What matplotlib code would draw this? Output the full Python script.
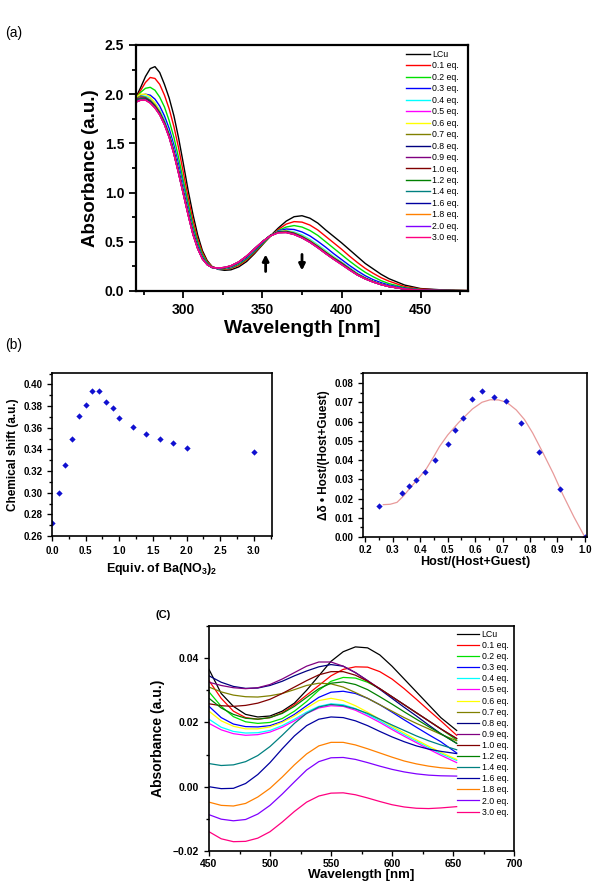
import matplotlib
matplotlib.use('Agg')
import matplotlib.pyplot as plt
from matplotlib.ticker import MultipleLocator

plt.rcParams['font.family'] = ['Liberation Sans', 'DejaVu Sans']
plt.rcParams['mathtext.fontset'] = 'custom'
plt.rcParams['mathtext.rm'] = 'Liberation Sans:bold'
plt.rcParams['mathtext.default'] = 'rm'

# ---------------- data ----------------
labels = ['LCu', '0.1 eq.', '0.2 eq.', '0.3 eq.', '0.4 eq.', '0.5 eq.', '0.6 eq.', '0.7 eq.',
          '0.8 eq.', '0.9 eq.', '1.0 eq.', '1.2 eq.', '1.4 eq.', '1.6 eq.', '1.8 eq.',
          '2.0 eq.', '3.0 eq.']
colors = ['#000000', '#ff0000', '#00e000', '#0000ff', '#00ffff', '#ff00ff', '#ffff00', '#808000',
          '#000080', '#800080', '#800000', '#008000', '#008080', '#0000a0', '#ff8000',
          '#8000ff', '#ff0080']

# (a) UV-vis titration
wl_a = [270, 273, 276, 279, 282, 285, 288, 291, 294, 297, 300, 303, 306, 309, 312, 315, 318,
        322, 326, 330, 335, 340, 345, 350, 355, 360, 365, 370, 375, 380, 385, 390, 395, 400,
        405, 410, 415, 420, 425, 430, 440, 450, 465, 480]
a_lcu = [1.97, 2.07, 2.18, 2.26, 2.28, 2.22, 2.10, 1.96, 1.78, 1.55, 1.29, 1.02, 0.78, 0.57,
         0.41, 0.31, 0.25, 0.22, 0.21, 0.215, 0.245, 0.30, 0.38, 0.47, 0.56, 0.64, 0.71, 0.755,
         0.765, 0.74, 0.69, 0.62, 0.555, 0.49, 0.42, 0.35, 0.28, 0.225, 0.17, 0.125, 0.06,
         0.025, 0.01, 0.005]
a_01 = [1.96, 2.04, 2.12, 2.17, 2.16, 2.10, 1.99, 1.85, 1.67, 1.45, 1.20, 0.95, 0.72, 0.53,
        0.39, 0.30, 0.25, 0.225, 0.22, 0.23, 0.26, 0.315, 0.39, 0.475, 0.555, 0.625, 0.68,
        0.705, 0.70, 0.67, 0.62, 0.555, 0.49, 0.425, 0.355, 0.29, 0.23, 0.18, 0.135, 0.10,
        0.045, 0.02, 0.008, 0.004]
a_02 = [1.96, 2.02, 2.06, 2.07, 2.04, 1.97, 1.87, 1.73, 1.56, 1.35, 1.12, 0.89, 0.67, 0.50,
        0.37, 0.29, 0.245, 0.225, 0.225, 0.235, 0.27, 0.325, 0.40, 0.48, 0.555, 0.615, 0.65,
        0.665, 0.65, 0.615, 0.565, 0.50, 0.435, 0.37, 0.305, 0.245, 0.19, 0.145, 0.105,
        0.075, 0.035, 0.015, 0.006, 0.003]
a_03 = [1.96, 1.99, 2.00, 1.99, 1.95, 1.88, 1.78, 1.65, 1.48, 1.28, 1.06, 0.84, 0.63, 0.47,
        0.35, 0.28, 0.24, 0.225, 0.23, 0.24, 0.28, 0.335, 0.41, 0.49, 0.56, 0.61, 0.63, 0.625,
        0.60, 0.56, 0.505, 0.445, 0.38, 0.32, 0.26, 0.205, 0.155, 0.115, 0.085, 0.06, 0.028,
        0.012, 0.005, 0.003]
a_04 = [1.95, 1.98, 1.98, 1.96, 1.91, 1.84, 1.74, 1.61, 1.44, 1.24, 1.03, 0.81, 0.61, 0.45,
        0.34, 0.275, 0.24, 0.228, 0.232, 0.245, 0.285, 0.345, 0.42, 0.50, 0.565, 0.605, 0.615,
        0.60, 0.57, 0.525, 0.47, 0.41, 0.35, 0.295, 0.238, 0.182, 0.136, 0.10, 0.072, 0.05,
        0.022, 0.01, 0.004, 0.002]
a_05 = [1.94, 1.96, 1.96, 1.93, 1.88, 1.81, 1.71, 1.58, 1.41, 1.21, 1.00, 0.79, 0.59, 0.44,
        0.33, 0.27, 0.24, 0.23, 0.235, 0.25, 0.29, 0.35, 0.425, 0.50, 0.565, 0.60, 0.605,
        0.585, 0.55, 0.505, 0.45, 0.39, 0.335, 0.285, 0.228, 0.172, 0.13, 0.095, 0.068,
        0.047, 0.02, 0.009, 0.004, 0.002]
a_06 = [1.97, 2.00, 2.00, 1.97, 1.91, 1.83, 1.72, 1.59, 1.42, 1.22, 1.01, 0.80, 0.60, 0.445,
        0.335, 0.272, 0.24, 0.229, 0.233, 0.248, 0.288, 0.348, 0.423, 0.50, 0.566, 0.603,
        0.61, 0.593, 0.56, 0.515, 0.46, 0.40, 0.343, 0.29, 0.232, 0.176, 0.133, 0.098, 0.07,
        0.048, 0.021, 0.009, 0.004, 0.002]
a_07 = [1.95, 1.98, 1.97, 1.94, 1.89, 1.82, 1.72, 1.59, 1.42, 1.22, 1.01, 0.80, 0.60, 0.445,
        0.335, 0.272, 0.24, 0.23, 0.234, 0.249, 0.289, 0.349, 0.424, 0.50, 0.565, 0.602,
        0.608, 0.59, 0.556, 0.51, 0.455, 0.395, 0.338, 0.287, 0.229, 0.173, 0.131, 0.096,
        0.069, 0.048, 0.021, 0.009, 0.004, 0.002]
a_08 = [1.94, 1.96, 1.96, 1.93, 1.88, 1.81, 1.71, 1.58, 1.41, 1.21, 1.00, 0.79, 0.595, 0.442,
        0.333, 0.271, 0.24, 0.23, 0.235, 0.25, 0.29, 0.35, 0.425, 0.50, 0.565, 0.60, 0.604,
        0.585, 0.55, 0.505, 0.45, 0.39, 0.333, 0.283, 0.225, 0.17, 0.129, 0.095, 0.068,
        0.047, 0.02, 0.009, 0.004, 0.002]
a_09 = [1.94, 1.96, 1.955, 1.925, 1.875, 1.805, 1.705, 1.575, 1.405, 1.205, 0.995, 0.785,
        0.59, 0.44, 0.332, 0.27, 0.24, 0.231, 0.236, 0.251, 0.291, 0.351, 0.426, 0.50, 0.563,
        0.598, 0.602, 0.583, 0.548, 0.502, 0.447, 0.387, 0.33, 0.28, 0.222, 0.168, 0.127,
        0.094, 0.067, 0.046, 0.02, 0.009, 0.004, 0.002]
a_10 = [1.93, 1.95, 1.95, 1.92, 1.87, 1.80, 1.70, 1.57, 1.40, 1.20, 0.99, 0.78, 0.585, 0.436,
        0.33, 0.27, 0.24, 0.232, 0.238, 0.253, 0.293, 0.353, 0.428, 0.502, 0.563, 0.597, 0.60,
        0.58, 0.545, 0.50, 0.445, 0.385, 0.328, 0.278, 0.22, 0.166, 0.126, 0.093, 0.066,
        0.046, 0.02, 0.009, 0.004, 0.002]
a_12 = [1.93, 1.95, 1.95, 1.92, 1.87, 1.80, 1.70, 1.57, 1.40, 1.20, 0.99, 0.78, 0.583, 0.435,
        0.33, 0.27, 0.24, 0.232, 0.238, 0.254, 0.294, 0.354, 0.429, 0.502, 0.562, 0.596, 0.598,
        0.578, 0.543, 0.498, 0.443, 0.383, 0.326, 0.276, 0.218, 0.165, 0.125, 0.092, 0.066,
        0.046, 0.02, 0.009, 0.004, 0.002]
a_14 = [1.93, 1.95, 1.945, 1.915, 1.865, 1.795, 1.695, 1.565, 1.395, 1.195, 0.985, 0.775,
        0.58, 0.433, 0.328, 0.269, 0.24, 0.233, 0.239, 0.255, 0.295, 0.355, 0.429, 0.502,
        0.561, 0.595, 0.597, 0.577, 0.542, 0.497, 0.442, 0.382, 0.325, 0.274, 0.217, 0.164,
        0.124, 0.092, 0.065, 0.045, 0.019, 0.008, 0.004, 0.002]
a_16 = [1.92, 1.94, 1.945, 1.915, 1.865, 1.795, 1.695, 1.565, 1.395, 1.195, 0.985, 0.775,
        0.578, 0.432, 0.327, 0.269, 0.24, 0.233, 0.239, 0.255, 0.295, 0.355, 0.43, 0.502,
        0.561, 0.594, 0.596, 0.576, 0.541, 0.496, 0.441, 0.381, 0.324, 0.272, 0.216, 0.164,
        0.124, 0.091, 0.065, 0.045, 0.019, 0.008, 0.004, 0.002]
a_18 = [1.92, 1.94, 1.94, 1.91, 1.86, 1.79, 1.69, 1.56, 1.39, 1.19, 0.98, 0.77, 0.577, 0.431,
        0.326, 0.268, 0.24, 0.233, 0.24, 0.256, 0.296, 0.356, 0.43, 0.502, 0.56, 0.593, 0.595,
        0.575, 0.54, 0.495, 0.44, 0.38, 0.323, 0.27, 0.215, 0.163, 0.123, 0.091, 0.065,
        0.045, 0.019, 0.008, 0.004, 0.002]
a_20 = [1.92, 1.94, 1.94, 1.91, 1.86, 1.79, 1.69, 1.56, 1.39, 1.19, 0.98, 0.77, 0.576, 0.43,
        0.325, 0.268, 0.24, 0.233, 0.24, 0.256, 0.296, 0.356, 0.43, 0.502, 0.56, 0.592, 0.594,
        0.574, 0.54, 0.495, 0.44, 0.38, 0.323, 0.269, 0.214, 0.163, 0.123, 0.091, 0.065,
        0.045, 0.019, 0.008, 0.004, 0.002]
a_30 = [1.92, 1.94, 1.94, 1.91, 1.86, 1.79, 1.69, 1.56, 1.39, 1.19, 0.98, 0.77, 0.575, 0.43,
        0.325, 0.268, 0.24, 0.233, 0.24, 0.256, 0.296, 0.356, 0.43, 0.502, 0.56, 0.592, 0.594,
        0.574, 0.54, 0.495, 0.44, 0.38, 0.323, 0.268, 0.214, 0.163, 0.123, 0.091, 0.065,
        0.045, 0.019, 0.008, 0.004, 0.002]
spectra_a = [a_lcu, a_01, a_02, a_03, a_04, a_05, a_06, a_07, a_08, a_09, a_10, a_12, a_14,
             a_16, a_18, a_20, a_30]

# (b) NMR titration and Job plot
equiv = [0, 0.1, 0.2, 0.3, 0.4, 0.5, 0.6, 0.7, 0.8, 0.9, 1.0, 1.2, 1.4, 1.6, 1.8, 2.0, 3.0]
shift = [0.272, 0.300, 0.326, 0.350, 0.371, 0.381, 0.394, 0.394, 0.384, 0.378, 0.369, 0.361,
         0.354, 0.350, 0.346, 0.341, 0.338]
job_x = [0.25, 0.333, 0.357, 0.385, 0.417, 0.455, 0.5, 0.526, 0.556, 0.588, 0.625, 0.667,
         0.714, 0.769, 0.833, 0.909, 1.0]
job_y = [0.0163, 0.0230, 0.0263, 0.0295, 0.0340, 0.0400, 0.0482, 0.0556, 0.0620, 0.0715,
         0.0757, 0.0726, 0.0705, 0.0590, 0.0443, 0.0247, 0.0]
fit_x = [0.265, 0.29, 0.315, 0.34, 0.36, 0.39, 0.42, 0.45, 0.47, 0.50, 0.54, 0.59, 0.625,
         0.655, 0.685, 0.715, 0.75, 0.78, 0.81, 0.85, 0.885, 0.92, 0.96, 1.0]
fit_y = [0.0168, 0.0170, 0.0180, 0.0215, 0.0250, 0.0300, 0.0350, 0.0420, 0.0470, 0.0530,
         0.0595, 0.0665, 0.0700, 0.0713, 0.0712, 0.0700, 0.0660, 0.0610, 0.0540, 0.0430,
         0.0330, 0.0220, 0.0105, 0.0]

# (c) visible region
wl_c = [450, 460, 470, 480, 490, 500, 510, 520, 530, 540, 550, 560, 570, 580, 590, 600, 610,
        620, 630, 640, 653]
c_lcu = [0.0365, 0.029, 0.025, 0.0225, 0.0217, 0.022, 0.0235, 0.026, 0.030, 0.0345, 0.039,
         0.042, 0.0435, 0.0432, 0.041, 0.0375, 0.0335, 0.0295, 0.0255, 0.0215, 0.0175]
c_01 = [0.033, 0.0275, 0.0235, 0.0215, 0.021, 0.0215, 0.023, 0.0255, 0.0285, 0.0315, 0.0345,
        0.0365, 0.0373, 0.0372, 0.0358, 0.0335, 0.0305, 0.0272, 0.0238, 0.0205, 0.016]
c_02 = [0.0295, 0.025, 0.0218, 0.0202, 0.0197, 0.020, 0.0212, 0.0235, 0.0265, 0.030, 0.0328,
        0.034, 0.0338, 0.0325, 0.0305, 0.028, 0.0255, 0.023, 0.0205, 0.018, 0.0145]
c_03 = [0.025, 0.0215, 0.0195, 0.0187, 0.0186, 0.019, 0.0203, 0.0225, 0.0252, 0.0278, 0.0294,
        0.0297, 0.029, 0.0275, 0.0255, 0.0232, 0.0208, 0.0185, 0.0162, 0.014, 0.0105]
c_04 = [0.021, 0.0185, 0.0172, 0.0167, 0.0168, 0.0175, 0.019, 0.021, 0.0232, 0.025, 0.0258,
        0.0255, 0.0243, 0.0225, 0.0205, 0.0183, 0.0162, 0.0142, 0.0122, 0.0103, 0.0082]
c_05 = [0.0197, 0.0177, 0.0165, 0.016, 0.0162, 0.017, 0.0185, 0.0205, 0.0228, 0.0245, 0.0252,
        0.025, 0.0238, 0.022, 0.020, 0.0178, 0.0157, 0.0137, 0.0117, 0.0098, 0.0075]
c_06 = [0.0235, 0.0205, 0.0188, 0.018, 0.018, 0.0186, 0.020, 0.022, 0.0245, 0.0268, 0.0275,
        0.0268, 0.0252, 0.0232, 0.021, 0.0188, 0.0167, 0.0146, 0.0126, 0.0107, 0.0085]
c_07 = [0.031, 0.0295, 0.0285, 0.028, 0.0279, 0.0283, 0.029, 0.0302, 0.0315, 0.0322, 0.032,
        0.031, 0.0293, 0.0275, 0.0255, 0.0235, 0.0215, 0.0197, 0.018, 0.0163, 0.0143]
c_08 = [0.0345, 0.0325, 0.0312, 0.0306, 0.0307, 0.0315, 0.0328, 0.0345, 0.036, 0.0373, 0.038,
        0.0375, 0.0355, 0.033, 0.0303, 0.0275, 0.0247, 0.022, 0.0192, 0.0165, 0.0135]
c_09 = [0.0325, 0.0315, 0.0308, 0.0305, 0.0308, 0.0318, 0.0335, 0.0355, 0.0375, 0.0388,
        0.0388, 0.0375, 0.0355, 0.033, 0.0305, 0.028, 0.0255, 0.023, 0.0205, 0.018, 0.015]
c_10 = [0.0258, 0.0252, 0.025, 0.0253, 0.026, 0.0272, 0.029, 0.031, 0.033, 0.0348, 0.0358,
        0.0358, 0.0347, 0.0328, 0.0305, 0.028, 0.0255, 0.023, 0.0205, 0.018, 0.015]
c_12 = [0.0275, 0.0245, 0.0225, 0.0213, 0.021, 0.0215, 0.0228, 0.025, 0.0278, 0.0305, 0.0322,
        0.0326, 0.0318, 0.0302, 0.028, 0.0257, 0.0233, 0.021, 0.0187, 0.0165, 0.0135]
c_14 = [0.0072, 0.0066, 0.0068, 0.0078, 0.0097, 0.0125, 0.016, 0.0197, 0.0228, 0.0248, 0.0256,
        0.0252, 0.0242, 0.0228, 0.021, 0.0192, 0.0175, 0.0158, 0.0143, 0.013, 0.0115]
c_16 = [0.0, -0.0006, -0.0005, 0.001, 0.0038, 0.0075, 0.0118, 0.0158, 0.019, 0.021, 0.0217,
        0.0215, 0.0205, 0.019, 0.0172, 0.0155, 0.014, 0.0127, 0.0117, 0.011, 0.0103]
c_18 = [-0.0048, -0.0058, -0.006, -0.0052, -0.0032, -0.0005, 0.003, 0.0068, 0.0102, 0.0127,
        0.0138, 0.0138, 0.013, 0.0118, 0.0105, 0.0092, 0.008, 0.0071, 0.0064, 0.0059, 0.0055]
c_20 = [-0.0087, -0.0101, -0.0106, -0.0102, -0.0085, -0.0058, -0.0023, 0.0015, 0.0052, 0.0078,
        0.009, 0.0091, 0.0085, 0.0075, 0.0064, 0.0054, 0.0046, 0.004, 0.0036, 0.0034, 0.0033]
c_30 = [-0.014, -0.0162, -0.0171, -0.017, -0.016, -0.014, -0.011, -0.0077, -0.0048, -0.0029,
        -0.002, -0.0019, -0.0025, -0.0035, -0.0046, -0.0056, -0.0063, -0.0067, -0.0068,
        -0.0066, -0.0062]
spectra_c = [c_lcu, c_01, c_02, c_03, c_04, c_05, c_06, c_07, c_08, c_09, c_10, c_12, c_14,
             c_16, c_18, c_20, c_30]

# ---------------- figure ----------------
W, H = 615, 885
fig = plt.figure(figsize=(W / 100, H / 100), dpi=100)


def px_axes(l, t, r, b):
    return fig.add_axes([l / W, 1 - b / H, (r - l) / W, (b - t) / H])


def style(ax, lw, tsize, major, minor):
    for s in ax.spines.values():
        s.set_linewidth(lw)
    ax.tick_params(which='both', direction='out', top=False, right=False, width=lw * 0.8)
    ax.tick_params(which='major', length=major, labelsize=tsize)
    ax.tick_params(which='minor', length=minor)
    for lab in ax.get_xticklabels() + ax.get_yticklabels():
        lab.set_fontweight('bold')


# panel (a)
ax = px_axes(136, 45, 468, 291)
for y, c, lab in zip(spectra_a, colors, labels):
    ax.plot(wl_a, y, color=c, lw=1.0, label=lab)
ax.set_xlim(270, 480)
ax.set_ylim(0, 2.5)
ax.xaxis.set_major_locator(MultipleLocator(50))
ax.xaxis.set_minor_locator(MultipleLocator(25))
ax.yaxis.set_major_locator(MultipleLocator(0.5))
ax.yaxis.set_minor_locator(MultipleLocator(0.25))
style(ax, 1.6, 10, 5, 3)
ax.set_xlabel('Wavelength [nm]', fontsize=14, fontweight='bold', labelpad=2)
ax.set_ylabel('Absorbance (a.u.)', fontsize=13.5, fontweight='bold', labelpad=4)
ax.annotate('', xy=(352, 0.40), xytext=(352, 0.17),
            arrowprops=dict(arrowstyle='-|>', color='black', lw=2, mutation_scale=9))
ax.annotate('', xy=(375, 0.18), xytext=(375, 0.40),
            arrowprops=dict(arrowstyle='-|>', color='black', lw=2, mutation_scale=9))
ax.legend(loc='upper left', bbox_to_anchor=(406 / W, 1 - 50 / H), bbox_transform=fig.transFigure,
          frameon=False, fontsize=6.3, handlelength=2.7, handletextpad=0.3, labelspacing=0.28,
          borderpad=0, borderaxespad=0)
fig.text(5 / W, 1 - 33 / H, '(a)', fontsize=10, va='center')

# panel (b) left
fig.text(5 / W, 1 - 345 / H, '(b)', fontsize=10, va='center')
ax = px_axes(52, 373, 272, 536)
ax.plot(equiv, shift, 'D', color='#1010d0', ms=3.2, mew=0)
ax.set_xlim(0, 3.27)
ax.set_ylim(0.26, 0.4105)
ax.xaxis.set_major_locator(MultipleLocator(0.5))
ax.xaxis.set_minor_locator(MultipleLocator(0.25))
ax.yaxis.set_major_locator(MultipleLocator(0.02))
ax.yaxis.set_minor_locator(MultipleLocator(0.01))
style(ax, 1.2, 7, 3.5, 2)
ax.set_xlabel('Equiv. of Ba(NO$_3$)$_2$', fontsize=9, fontweight='bold', labelpad=4)
ax.set_ylabel('Chemical shift (a.u.)', fontsize=8.5, fontweight='bold', labelpad=3)

# panel (b) right
ax = px_axes(363, 373, 587, 537)
ax.plot(fit_x, fit_y, color='#e89a9a', lw=0.9)
ax.plot(job_x, job_y, 'D', color='#1010d0', ms=3.2, mew=0)
ax.set_xlim(0.191, 1.008)
ax.set_ylim(0, 0.0852)
ax.xaxis.set_major_locator(MultipleLocator(0.1))
ax.xaxis.set_minor_locator(MultipleLocator(0.05))
ax.yaxis.set_major_locator(MultipleLocator(0.01))
ax.yaxis.set_minor_locator(MultipleLocator(0.005))
style(ax, 1.2, 7, 3.5, 2)
ax.tick_params(axis='x', pad=2)
ax.set_xlabel('Host/(Host+Guest)', fontsize=9, fontweight='bold', labelpad=1)
ax.set_ylabel('Δδ • Host/(Host+Guest)', fontsize=8.5, fontweight='bold', labelpad=3)

# panel (c)
ax = px_axes(209, 626, 514, 851)
for y, c, lab in zip(spectra_c, colors, labels):
    ax.plot(wl_c, y, color=c, lw=0.9, label=lab)
ax.set_xlim(450, 700)
ax.set_ylim(-0.02, 0.05)
ax.xaxis.set_major_locator(MultipleLocator(50))
ax.xaxis.set_minor_locator(MultipleLocator(25))
ax.yaxis.set_major_locator(MultipleLocator(0.02))
ax.yaxis.set_minor_locator(MultipleLocator(0.01))
ax.set_yticks([-0.02, 0.0, 0.02, 0.04])
style(ax, 1.2, 7.5, 3.5, 2)
ax.tick_params(axis='x', pad=2)
ax.set_xlabel('Wavelength [nm]', fontsize=9.5, fontweight='bold', labelpad=0)
ax.set_ylabel('Absorbance (a.u.)', fontsize=10, fontweight='bold', labelpad=6)
ax.legend(loc='upper left', bbox_to_anchor=(457 / W, 1 - 630 / H), bbox_transform=fig.transFigure,
          frameon=False, fontsize=6.3, handlelength=2.5, handletextpad=0.3, labelspacing=0.24,
          borderpad=0, borderaxespad=0)
fig.text(156 / W, 1 - 615 / H, '(C)', fontsize=8, fontweight='bold', va='center')

fig.savefig('out.png', dpi=100)
